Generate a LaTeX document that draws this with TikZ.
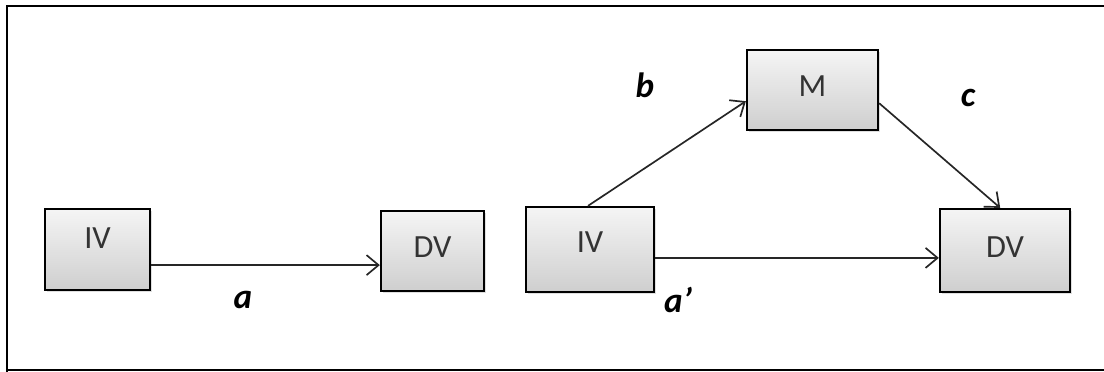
\documentclass[tikz,border=0pt]{standalone}
\usepackage{fontspec}
\setmainfont{Carlito}
\usetikzlibrary{arrows.meta,shadows}

\tikzset{
    varbox/.style={draw,line width=1.6pt,top color=gray!8,bottom color=gray!38,
        drop shadow={shadow xshift=1.2pt,shadow yshift=-1.2pt,opacity=0.25},
        text=black!80,font=\fontsize{23}{28}\selectfont,text height=0.55cm,text depth=0.2cm},
    path/.style={line width=1.2pt,draw=black!85,-{Straight Barb[length=3mm,width=5mm,line width=1.2pt]}},
    coef/.style={font=\fontsize{25}{30}\selectfont\bfseries\itshape}
}

\begin{document}
\begin{tikzpicture}[x=0.025cm,y=-0.025cm]

        \useasboundingbox (0,0) rectangle (1104,372);
        \draw[line width=2pt] (7,372) -- (7,6) -- (1104,6);
        \draw[line width=2pt] (7,370) -- (1104,370);

        % simple model
        \node[varbox,minimum width=2.625cm,minimum height=2.025cm,text depth=0.6cm] (iv1) at (97.5,249.5) {IV};
        \node[varbox,minimum width=2.575cm,minimum height=2cm] (dv1) at (432.5,251) {DV};
        \draw[path] ([yshift=-0.39cm]iv1.east) -- ([yshift=-0.39cm]iv1.east -| dv1.west);
        \node[coef] (a) at (243,300) {a};

        % mediation model
        \node[varbox,minimum width=3.2cm,minimum height=2.125cm,text depth=0.4cm] (iv2) at (590,249.5) {IV};
        \node[varbox,minimum width=3.275cm,minimum height=2cm] (m) at (812.5,90) {M};
        \node[varbox,minimum width=3.25cm,minimum height=2.075cm] (dv2) at (1005,250.5) {DV};
        \draw[path] ([xshift=-0.05cm]iv2.north) -- ([yshift=-0.28cm]m.west);
        \draw[path] ([yshift=-0.33cm]m.east) -- ([xshift=-0.12cm]dv2.north);
        \draw[path] ([yshift=-0.21cm]iv2.east) -- ([yshift=-0.21cm]iv2.east -| dv2.west);
        \node[coef] (b) at (645,85) {b};
        \node[coef] (c) at (968,98) {c};
        \node[coef] (a2) at (678,300) {a’};

\end{tikzpicture}
\end{document}
